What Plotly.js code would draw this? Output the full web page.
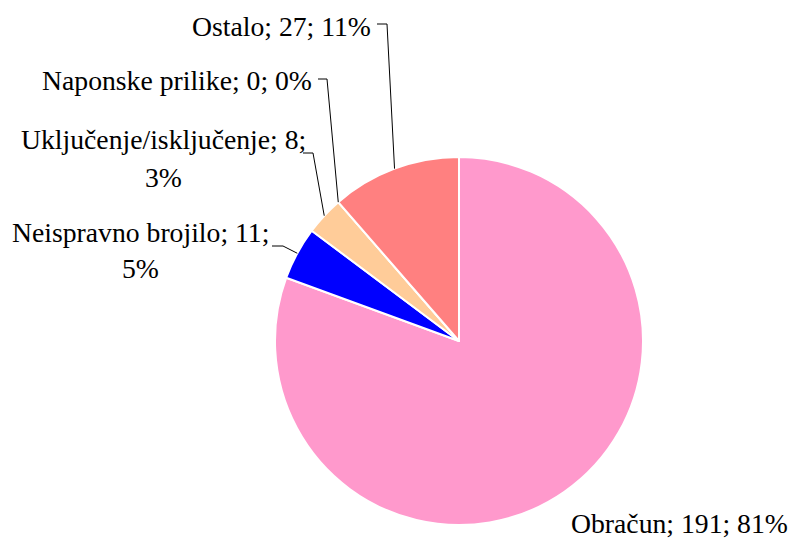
<!DOCTYPE html>
<html>
<head>
<meta charset="utf-8">
<script src="https://cdn.plot.ly/plotly-3.0.1.min.js"></script>
<style>html,body{margin:0;padding:0;background:#fff;}#chart{width:792px;height:538px;}</style>
</head>
<body>
<div id="chart"></div>
<script>
// ---- data ----
var categories = ["Obračun", "Neispravno brojilo", "Uključenje/isključenje", "Naponske prilike", "Ostalo"];
var values = [191, 11, 8, 0, 27];
var colors = ["#FF99CC", "#0000FF", "#FFCC99", "#CC99FF", "#FF8080"];

// ---- layout constants (pixels) ----
var W = 792, H = 538;
var CX = 459, CY = 341, R = 184;
var FONT = {family: "Liberation Serif", size: 27.7, color: "#000"};

// label placement: text lines (anchor x, y center, anchor), leader (horizontal start, knee)
var labelLayout = [
  {lines: [[790, 523, "right"]], leader: null},
  {lines: [[140, 232, "center"], [140, 268, "center"]], leader: {hx: 272, ky: 246, kx: 283}},
  {lines: [[163, 140, "center"], [163, 177, "center"]], leader: {hx: 303, ky: 153, kx: 313}},
  {lines: [[314, 80, "right"]], leader: {hx: 318, ky: 79, kx: 327}},
  {lines: [[373, 27, "right"]], leader: {hx: 377, ky: 24, kx: 387}}
];

var total = values.reduce(function (a, b) { return a + b; }, 0);
function px2x(px) { return px / W; }
function py2y(py) { return 1 - py / H; }

var annotations = [];
var shapes = [];
var cum = 0;
values.forEach(function (v, i) {
  var pct = Math.round(v / total * 100);
  var midFrac = (cum + v / 2) / total;
  cum += v;
  var ang = midFrac * 2 * Math.PI; // clockwise from 12 o'clock
  var ex = CX + R * Math.sin(ang);
  var ey = CY - R * Math.cos(ang);
  var L = labelLayout[i];
  var texts;
  if (L.lines.length === 1) {
    texts = [categories[i] + "; " + v + "; " + pct + "%"];
  } else {
    texts = [categories[i] + "; " + v + ";", pct + "%"];
  }
  L.lines.forEach(function (ln, j) {
    annotations.push({
      xref: "paper", yref: "paper",
      x: px2x(ln[0]), y: py2y(ln[1]),
      xanchor: ln[2], yanchor: "middle",
      text: texts[j], showarrow: false, font: FONT
    });
  });
  if (L.leader) {
    var d = "M " + px2x(L.leader.hx) + " " + py2y(L.leader.ky) +
            " L " + px2x(L.leader.kx) + " " + py2y(L.leader.ky) +
            " L " + px2x(ex) + " " + py2y(ey);
    shapes.push({type: "path", xref: "paper", yref: "paper", path: d,
                 line: {color: "#000", width: 1}});
  }
});

var trace = {
  type: "pie",
  labels: categories,
  values: values,
  sort: false,
  direction: "clockwise",
  rotation: 0,
  textinfo: "none",
  hoverinfo: "label+value+percent",
  marker: {colors: colors, line: {color: "#FFFFFF", width: 2}},
  domain: {x: [px2x(CX - R), px2x(CX + R)], y: [py2y(CY + R), py2y(CY - R)]},
  showlegend: false
};

var layout = {
  width: W, height: H,
  margin: {l: 0, r: 0, t: 0, b: 0},
  paper_bgcolor: "#fff",
  font: FONT,
  showlegend: false,
  annotations: annotations,
  shapes: shapes
};

Plotly.newPlot("chart", [trace], layout, {displayModeBar: false, staticPlot: true});
</script>
</body>
</html>
